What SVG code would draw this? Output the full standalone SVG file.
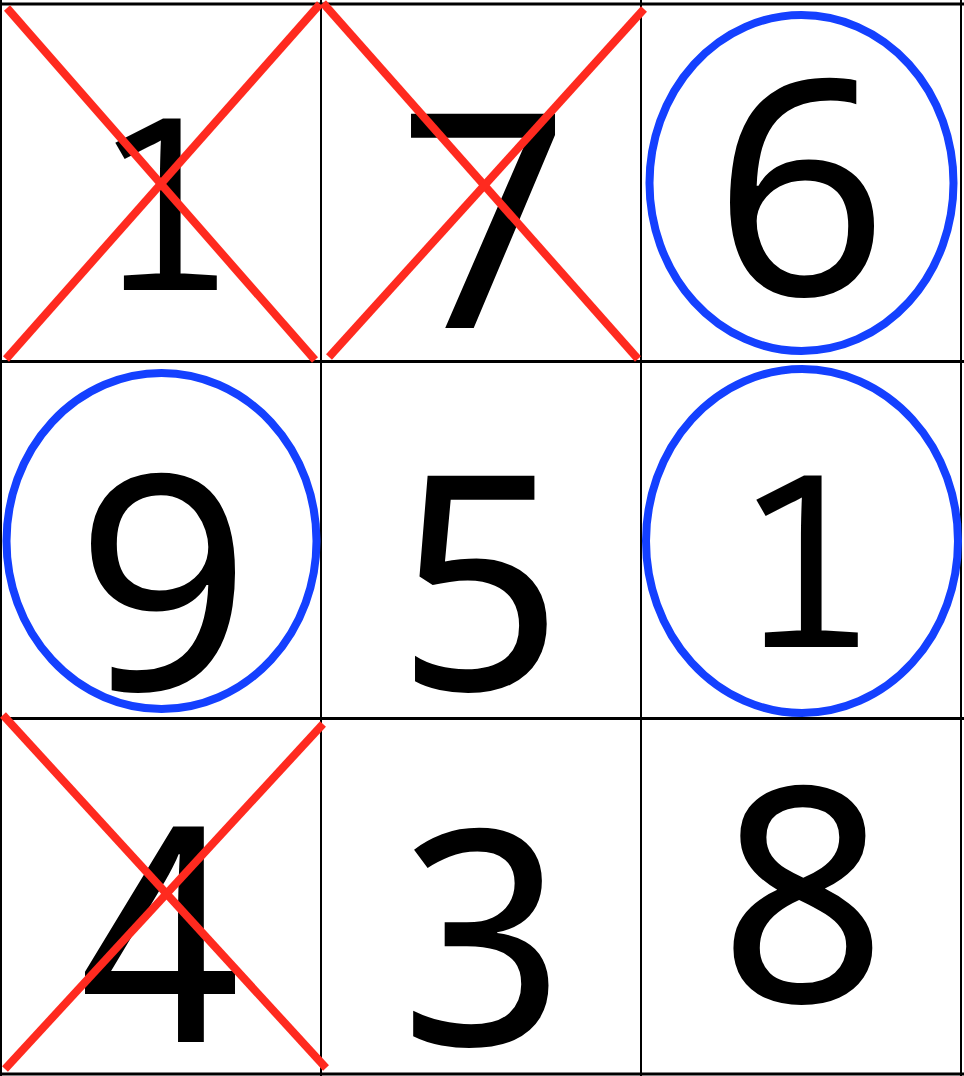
<svg xmlns="http://www.w3.org/2000/svg" width="964" height="1076" viewBox="0 0 964 1076">
<style>
.h{stroke:#000;stroke-width:3}
.v{stroke:#000;stroke-width:2}
.d{font-family:"Noto Sans Mono","DejaVu Sans Mono",monospace;fill:#000;text-anchor:middle}
.x{stroke:#ff2a1f;stroke-width:8;fill:none}
.o{stroke:#1440ff;stroke-width:8;fill:none}
</style>
<rect x="0" y="0" width="964" height="1076" fill="#fff"/>
<g id="grid">
<line class="h" x1="0" y1="4" x2="964" y2="4"/>
<line class="h" x1="0" y1="361.5" x2="964" y2="361.5"/>
<line class="h" x1="0" y1="718.5" x2="964" y2="718.5"/>
<line class="h" x1="0" y1="1074" x2="964" y2="1074"/>
<line class="v" x1="1" y1="0" x2="1" y2="1076"/>
<line class="v" x1="321" y1="0" x2="321" y2="1076"/>
<line class="v" x1="641" y1="0" x2="641" y2="1076"/>
<line class="v" x1="961" y1="0" x2="961" y2="1076"/>
</g>
<g id="digits">
<text class="d" x="164" y="290" font-size="240">1</text>
<text class="d" x="483" y="328" font-size="300">7</text>
<text class="d" x="802" y="295" font-size="300">6</text>
<text class="d" x="163" y="690" font-size="300">9</text>
<text class="d" x="481" y="690" font-size="300">5</text>
<text class="d" x="805" y="647" font-size="240">1</text>
<text class="d" x="160" y="1042" font-size="300">4</text>
<text class="d" x="481" y="1045" font-size="300">3</text>
<text class="d" x="803" y="1002" font-size="300">8</text>
</g>
<g id="marks">
<line class="x" x1="7" y1="8" x2="315" y2="360"/>
<line class="x" x1="6" y1="359" x2="320" y2="4"/>
<line class="x" x1="323" y1="3" x2="638" y2="359"/>
<line class="x" x1="329" y1="357" x2="644" y2="9"/>
<line class="x" x1="3" y1="715" x2="326" y2="1068"/>
<line class="x" x1="5" y1="1069" x2="323" y2="724"/>
<ellipse class="o" cx="801.5" cy="183" rx="152" ry="168"/>
<ellipse class="o" cx="161.5" cy="541" rx="155" ry="168"/>
<ellipse class="o" cx="802" cy="541" rx="156" ry="172"/>
</g>
</svg>
